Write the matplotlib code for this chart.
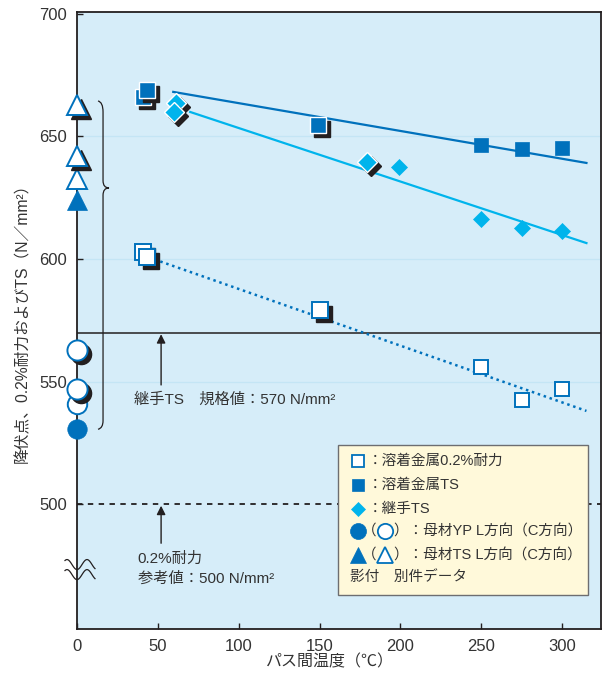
import matplotlib
matplotlib.use('Agg')
import matplotlib.pyplot as plt
import matplotlib.transforms as mtransforms
from matplotlib.patches import Rectangle, PathPatch
from matplotlib.path import Path
import numpy as np

plt.rcParams['font.family'] = ['Liberation Sans', 'Noto Sans CJK JP']

# --- data ---
# weld metal 0.2% proof stress (open squares)
weld02_x = [41, 43, 150, 250, 275, 300]
weld02_y = [603, 601, 579, 556, 542.5, 547]
weld02_shadow = [True, True, True, False, False, False]
weld02_fit_x = [51.5, 315]
weld02_fit_y = [599, 538]

# weld metal TS (filled squares)
weldts_x = [41, 43, 149, 250, 275, 300]
weldts_y = [666, 669, 654.5, 646.5, 645, 645.5]
weldts_shadow = [True, True, True, False, False, False]
weldts_fit_x = [59.5, 315]
weldts_fit_y = [668.2, 639.2]

# joint TS (diamonds)
joint_x = [61.5, 60, 179.5, 199, 250, 275, 300]
joint_y = [663.8, 660, 639.6, 637.5, 616.5, 612.6, 611.4]
joint_shadow = [True, True, True, False, False, False, False]
joint_fit_x = [70, 315]
joint_fit_y = [660, 606.5]

# base metal at 0 degC: triangles = TS, circles = YP (open = C direction)
bm_ts_x = [0, 0, 0, 0]
bm_ts_y = [624, 632.5, 642, 663]
bm_ts_open = [False, True, True, True]
bm_ts_shadow = [False, False, True, True]
bm_yp_x = [0, 0, 0, 0]
bm_yp_y = [530.5, 541, 547, 563]
bm_yp_open = [False, True, True, True]
bm_yp_shadow = [False, False, True, True]

joint_spec = 570
proof_ref = 500

x_ticks = [0, 50, 100, 150, 200, 250, 300]
y_ticks = [500, 550, 600, 650, 700]

DARK = '#0071BC'
CYAN = '#00B4EC'
BG = '#D6EDF9'
INK = '#231F20'
TXT = '#333333'

fig = plt.figure(figsize=(6.07, 6.76), dpi=100)
ax = fig.add_axes([77 / 607, 47 / 676, 524 / 607, 617 / 676])
ax.set_facecolor(BG)
ax.set_xlim(0, 324)
ax.set_ylim(449, 700.8)

for s in ax.spines.values():
    s.set_color(INK)
    s.set_linewidth(1.3)

ax.set_xticks(x_ticks)
ax.set_yticks(y_ticks)
ax.tick_params(direction='in', length=4.5, width=1, color=INK,
               labelsize=12, labelcolor=TXT, pad=7)

for g in [550, 600, 650]:
    ax.axhline(g, color='#C4E5F5', lw=0.9, zorder=1)

ax.axhline(joint_spec, color=INK, lw=1.1, zorder=2)
ax.axhline(proof_ref, color=INK, lw=1.3, ls=(0, (3, 3)), zorder=2)

# regression lines
ax.plot(weldts_fit_x, weldts_fit_y, color=DARK, lw=1.6, zorder=3)
ax.plot(joint_fit_x, joint_fit_y, color=CYAN, lw=1.6, zorder=3)
ax.plot(weld02_fit_x, weld02_fit_y, color=DARK, lw=1.8, ls=(0, (1, 1.5)), zorder=3)

shadow_tr = mtransforms.offset_copy(ax.transData, fig=fig, x=4, y=-4, units='dots')


def draw_pts(xs, ys, shadows, opens, marker, ms_big, ms_small, color, z):
    for i in range(len(xs)):
        zz = z + i * 0.02
        ms = ms_big if shadows[i] else ms_small
        if shadows[i]:
            ax.plot(xs[i], ys[i], marker=marker, ms=ms, mfc=INK, mec=INK, mew=1.0,
                    transform=shadow_tr, zorder=zz, clip_on=False)
        if opens[i]:
            face, edge, mew = 'white', color, 1.4
        elif shadows[i]:
            face, edge, mew = color, 'white', 1.0
        else:
            face, edge, mew = color, color, 0.5
        ax.plot(xs[i], ys[i], marker=marker, ms=ms, mfc=face, mec=edge, mew=mew,
                zorder=zz + 0.01, clip_on=False)


draw_pts(weld02_x, weld02_y, weld02_shadow, [True] * len(weld02_x), 's', 11.5, 10.5, DARK, 5)
draw_pts(weldts_x, weldts_y, weldts_shadow, [False] * len(weldts_x), 's', 12, 10.5, DARK, 6)
draw_pts(joint_x, joint_y, joint_shadow, [False] * len(joint_x), 'D', 10, 8, CYAN, 7)
draw_pts(bm_ts_x, bm_ts_y, bm_ts_shadow, bm_ts_open, '^', 14.5, 14, DARK, 8)
draw_pts(bm_yp_x, bm_yp_y, bm_yp_shadow, bm_yp_open, 'o', 14.5, 14, DARK, 8)

# brace grouping base metal values
bx0, bx1, bx2 = 13.0, 16.1, 19.8
verts = [(bx0, 664.5), (bx1, 664), (bx1, 660), (bx1, 632), (bx1, 629), (bx2, 629),
         (bx1, 629), (bx1, 626), (bx1, 534), (bx1, 531), (bx0, 530.5)]
codes = [Path.MOVETO, Path.CURVE3, Path.CURVE3, Path.LINETO, Path.CURVE3, Path.CURVE3,
         Path.CURVE3, Path.CURVE3, Path.LINETO, Path.CURVE3, Path.CURVE3]
ax.add_patch(PathPatch(Path(verts, codes), fill=False, ec=INK, lw=0.9, zorder=4))

# axis break marks
t = np.linspace(-12, 18, 60)
for yc in [475.3, 471.2]:
    ax.plot(t / 1.617, yc - 5 * np.cos(np.pi * t / 10) / 2.45, color=INK, lw=0.9,
            clip_on=False, zorder=4)

# annotations
ax.annotate('', xy=(52, 569.3), xytext=(52, 548.6),
            arrowprops=dict(arrowstyle='-|>', color=INK, lw=1, mutation_scale=13,
                            shrinkA=0, shrinkB=0), zorder=4)
ax.text(35.5, 542.6, '継手TS　規格値：570 N/mm²', fontsize=11, color=TXT, va='center', ha='left')
ax.annotate('', xy=(52, 499.3), xytext=(52, 484),
            arrowprops=dict(arrowstyle='-|>', color=INK, lw=1, mutation_scale=13,
                            shrinkA=0, shrinkB=0), zorder=4)
ax.text(37.5, 477.6, '0.2%耐力', fontsize=11, color=TXT, va='center', ha='left')
ax.text(37.5, 469.6, '参考値：500 N/mm²', fontsize=11, color=TXT, va='center', ha='left')

# legend box
ax.add_patch(Rectangle((161.4, 462.9), 154.6, 61.2, fc='#FFF9DA', ec='#6D6E71', lw=1, zorder=10))
lx, tx = 173.8, 179.6
rows = [517.6, 507.8, 498.0, 489.0, 479.2, 470.2]
ax.plot(lx, rows[0], 's', ms=9.3, mfc='white', mec=DARK, mew=1.3, zorder=11)
ax.plot(lx, rows[1], 's', ms=9.3, mfc=DARK, mec=DARK, mew=0.5, zorder=11)
ax.plot(lx, rows[2], 'D', ms=7.6, mfc=CYAN, mec=CYAN, mew=0.5, zorder=11)
ax.plot(lx, rows[3], 'o', ms=11.5, mfc=DARK, mec=DARK, mew=0.5, zorder=11)
ax.plot(lx, rows[4], '^', ms=11.5, mfc=DARK, mec=DARK, mew=0.5, zorder=11)
ax.plot(190.5, rows[3], 'o', ms=11, mfc='white', mec=DARK, mew=1.3, zorder=11)
ax.plot(190.5, rows[4], '^', ms=11, mfc='white', mec=DARK, mew=1.3, zorder=11)
labels = ['：溶着金属0.2%耐力', '：溶着金属TS', '：継手TS']
for r, lab in zip(rows[:3], labels):
    ax.text(tx, r, lab, fontsize=10.5, color=TXT, va='center', ha='left', zorder=11)
for r, lab in zip(rows[3:5], ['）：母材YP L方向（C方向）', '）：母材TS L方向（C方向）']):
    ax.text(176.3, r, '（', fontsize=10.5, color=TXT, va='center', ha='left', zorder=11)
    ax.text(195.8, r, lab, fontsize=10.5, color=TXT, va='center', ha='left', zorder=11)
ax.text(169.0, rows[5], '影付　別件データ', fontsize=10.5, color=TXT, va='center', ha='left', zorder=11)

fig.text(22 / 607, 1 - 319 / 676, '降伏点、0.2%耐力およびTS（N／mm²）', rotation=90,
         fontsize=11.3, color=TXT, ha='center', va='center')
fig.text(330 / 607, 1 - 662 / 676, 'パス間温度（℃）', fontsize=11.5, color=TXT,
         ha='center', va='center')

fig.savefig('out.png', dpi=100)
